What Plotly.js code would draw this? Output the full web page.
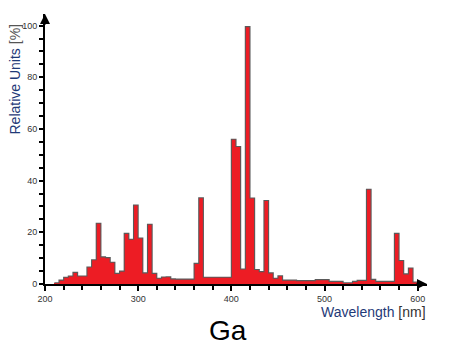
<!DOCTYPE html>
<html>
<head>
<meta charset="utf-8">
<script src="https://cdn.plot.ly/plotly-3.0.1.min.js"></script>
<style>html,body{margin:0;padding:0;background:#fff;}#chart{width:460px;height:360px;}</style>
</head>
<body>
<div id="chart"></div>
<script>
// Bin start wavelengths (nm), 5 nm bins
const wavelength = [210,215,220,225,230,235,240,245,250,255,260,265,270,275,280,285,290,295,300,305,
  310,315,320,325,330,335,340,345,350,355,360,365,370,375,380,385,390,395,400,405,
  410,415,420,425,430,435,440,445,450,455,460,465,470,475,480,485,490,495,500,505,
  510,515,520,525,530,535,540,545,550,555,560,565,570,575,580,585,590,595];
// Relative intensity (%)
const relative = [0.5,1.5,2.6,3.1,4.5,3.1,3.1,6.6,9.4,23.5,10.5,10.2,8.4,4.1,5.0,19.6,17.3,30.6,17.8,4.3,
  23.1,4.1,2.2,2.7,2.8,2.0,1.9,1.9,1.9,1.9,8.0,33.4,2.6,2.6,2.6,2.6,2.6,2.6,56.0,53.2,
  5.8,99.6,33.3,5.6,4.8,32.3,4.3,2.2,3.2,1.5,1.5,1.5,1.3,1.3,1.3,1.3,1.7,1.7,1.7,1.0,
  1.0,1.0,0.5,0.5,1.0,1.4,1.4,36.7,1.8,1.0,1.0,1.0,1.0,19.6,9.1,3.9,6.2,0.8];
const binWidth = 5;
const xTickVals = [200,300,400,500,600];
const yTickVals = [0,20,40,60,80,100];

const edges = wavelength.concat([wavelength[wavelength.length-1] + binWidth]);
const stepY = relative.concat([0]);

const bars = {
  type: 'bar', x: wavelength, y: relative, width: binWidth, offset: 0,
  marker: {color: '#ed1c24', line: {width: 0}}, hoverinfo: 'x+y', showlegend: false
};
const outline = {
  type: 'scatter', mode: 'lines', x: edges, y: stepY,
  line: {shape: 'hv', color: '#5a5a5a', width: 1.1}, hoverinfo: 'skip', showlegend: false
};

const tickFont = {family: 'Liberation Sans, Arial, sans-serif', size: 9, color: '#333'};
const layout = {
  width: 460, height: 360,
  margin: {l: 45, r: 33, t: 14, b: 76},
  paper_bgcolor: '#fff', plot_bgcolor: '#fff',
  bargap: 0, showlegend: false,
  xaxis: {
    range: [200, 610], showgrid: false, zeroline: false,
    showline: true, linecolor: '#000', linewidth: 2,
    tickmode: 'array', tickvals: xTickVals, ticks: 'outside', ticklen: 5, tickwidth: 2, tickcolor: '#000',
    minor: {dtick: 20, tick0: 200, ticks: 'outside', ticklen: 4, tickwidth: 2, tickcolor: '#000'},
    tickfont: tickFont
  },
  yaxis: {
    range: [0, 104.5], showgrid: false, zeroline: false,
    showline: true, linecolor: '#000', linewidth: 2,
    tickmode: 'array', tickvals: yTickVals, ticks: 'outside', ticklen: 4, tickwidth: 2, tickcolor: '#000',
    minor: {dtick: 5, tick0: 0, ticks: 'outside', ticklen: 4, tickwidth: 2, tickcolor: '#000'},
    tickfont: tickFont
  },
  annotations: [
    {x: 610, y: 0, xref: 'x', yref: 'y', ax: -12, ay: 0, showarrow: true, arrowhead: 2, arrowsize: 1, arrowwidth: 2, arrowcolor: '#000', text: ''},
    {x: 200, y: 104.5, xref: 'x', yref: 'y', ax: 0, ay: 12, showarrow: true, arrowhead: 2, arrowsize: 1, arrowwidth: 2, arrowcolor: '#000', text: ''},
    {xref: 'paper', yref: 'paper', xanchor: 'center', yanchor: 'top', showarrow: false,
     text: '<span style="color:#1f3a78">Relative Units</span> <span style="color:#555">[%]</span>',
     textangle: -90, font: {family: 'Liberation Sans, Arial, sans-serif', size: 14}, x: 0, xshift: -31, y: 1, yshift: -8},
    {x: 1, y: 0, xref: 'paper', yref: 'paper', xanchor: 'right', yanchor: 'top', showarrow: false, yshift: -18, xshift: 1,
     text: '<span style="color:#1f3a78">Wavelength</span> <span style="color:#333">[nm]</span>',
     font: {family: 'Liberation Sans, Arial, sans-serif', size: 14}},
    {x: 0.5, y: 0, xref: 'paper', yref: 'paper', xanchor: 'center', yanchor: 'top', showarrow: false, yshift: -29, xshift: -8,
     text: 'Ga', font: {family: 'Liberation Sans, Arial, sans-serif', size: 28, color: '#000'}}
  ]
};
Plotly.newPlot('chart', [bars, outline], layout, {displayModeBar: false, staticPlot: true});
</script>
</body>
</html>
